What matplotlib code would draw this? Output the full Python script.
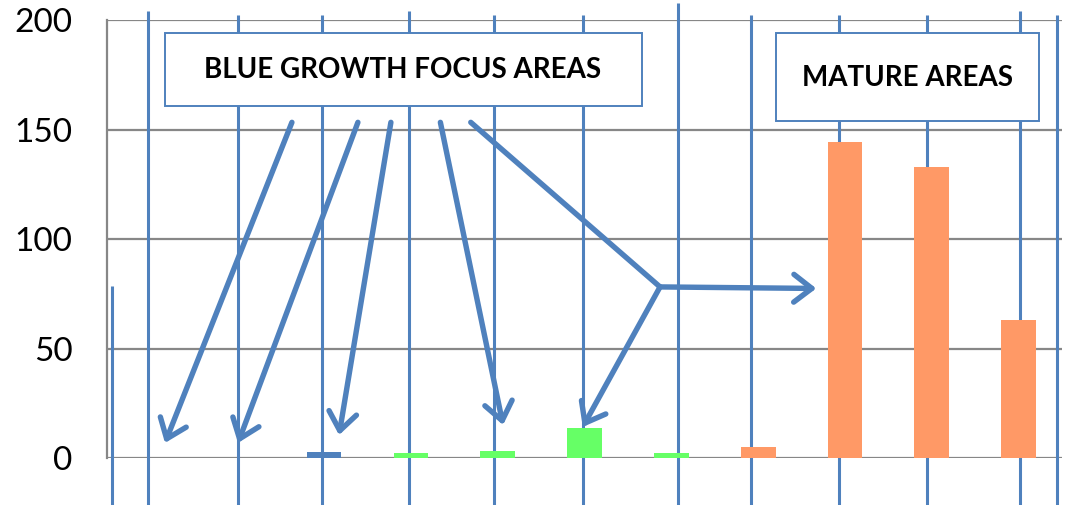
import matplotlib
matplotlib.use('Agg')
import matplotlib.pyplot as plt
from matplotlib.patches import Rectangle

plt.rcParams['font.family'] = ['Lato', 'DejaVu Sans']

# data
areas = ['1', '2', '3', '4', '5', '6', '7', '8', '9', '10', '11']
values = [0, 0, 3.0, 2.6, 3.5, 13.8, 2.6, 5.3, 144.2, 132.8, 63.1]
groups = ['blue', 'blue', 'blue', 'green', 'green', 'green', 'green',
          'orange', 'orange', 'orange', 'orange']
yticks = [0, 50, 100, 150, 200]

# odd vertical separator lines (category units) and their top values
vline_x = [-0.442, -0.028, 1.009, 1.977, 2.979, 3.959, 4.984, 6.078,
           6.919, 7.932, 8.947, 10.018, 10.445]
vline_top = [78.6, 204, 202.3, 202.3, 204, 202.3, 202.3, 207.6,
             202.3, 202.3, 202.3, 204, 202.3]

# arrows: (x0, y0, x1, y1, head)
arrows = [
    (1.63, 153.3, 0.168, 7.0, True),
    (2.39, 153.3, 1.009, 7.0, True),
    (2.77, 153.3, 2.173, 10.6, True),
    (3.34, 153.3, 4.062, 15.2, True),
    (3.69, 153.3, 5.87, 78.2, False),
    (5.87, 78.2, 7.67, 77.5, True),
    (5.87, 78.2, 4.98, 14.3, True),
]

palette = {'blue': '#4F81BD', 'green': '#66FF66', 'orange': '#FF9966'}
line_blue = '#4F81BD'
grid_grey = '#878787'

W, H = 1090, 505
fig = plt.figure(figsize=(W / 100, H / 100), dpi=100)
ax = fig.add_axes([107 / W, (H - 458.3) / H, (1062 - 107) / W, (458.3 - 20) / H])

x = list(range(len(areas)))
ax.set_xlim(-0.5, len(areas) - 0.5)
ax.set_ylim(0, 200)

ax.set_yticks(yticks)
ax.yaxis.grid(True, color=grid_grey, lw=1.6, zorder=0)
ax.set_axisbelow(True)
ax.set_xticks([])
ax.tick_params(axis='y', length=0, pad=25, labelsize=24)
for s in ['top', 'right', 'bottom']:
    ax.spines[s].set_visible(False)
ax.spines['left'].set_color(grid_grey)
ax.spines['left'].set_linewidth(1.6)

ax.vlines(vline_x, -22, vline_top, color=line_blue, lw=2.2, zorder=2, clip_on=False)

ax.bar(x, values, width=0.4, color=[palette[g] for g in groups], zorder=3)

for x0, y0, x1, y1, head in arrows:
    style = '->,head_length=0.65,head_width=0.5' if head else '-'
    ax.annotate('', xy=(x1, y1), xytext=(x0, y0), annotation_clip=False,
                arrowprops=dict(arrowstyle=style, color=line_blue, lw=3.9,
                                shrinkA=0, shrinkB=0, mutation_scale=20,
                                capstyle='round', joinstyle='round'),
                zorder=5)

# label boxes (pixel positions in figure)
boxes = [
    (165, 33, 642, 106, 'BLUE GROWTH FOCUS AREAS'),
    (776, 33, 1039, 121, 'MATURE AREAS'),
]
for l, t, r, b, label in boxes:
    fig.patches.append(Rectangle((l / W, 1 - b / H), (r - l) / W, (b - t) / H,
                                 transform=fig.transFigure, facecolor='white',
                                 edgecolor=line_blue, lw=1.4, zorder=4))
fig.text(403 / W, 1 - 70 / H, 'BLUE GROWTH FOCUS AREAS', ha='center', va='center',
         fontsize=20, fontweight='bold', zorder=6)
fig.text(907 / W, 1 - 78 / H, 'MATURE AREAS', ha='center', va='center',
         fontsize=20, fontweight='bold', zorder=6)

fig.savefig('out.png', dpi=100)
